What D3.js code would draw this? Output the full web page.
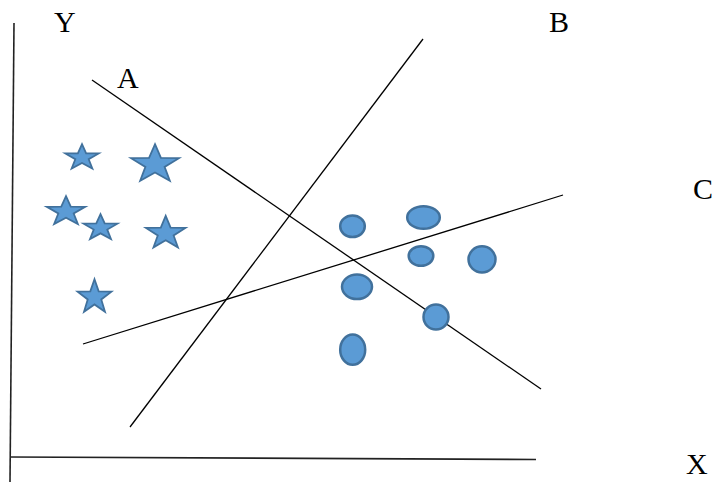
<!DOCTYPE html>
<html>
<head>
<meta charset="utf-8">
<script src="https://cdn.jsdelivr.net/npm/d3@7"></script>
<style>
  html, body { margin: 0; padding: 0; background: #fff; }
  svg { display: block; }
</style>
</head>
<body>
<svg id="chart" width="713" height="482"></svg>
<script>
// ---- data (diagram units: origin at the axes corner) ----
const axisEnds = [[0, 0], [526, -2.5], [0, 0], [4, 434], [0, 0], [0, -25]];
const lineNames = ["A", "B", "C"];
const lineStarts = [[82, 377], [120, 30], [73, 113]];
const lineEnds = [[531, 68], [413, 418], [553, 262]];
const starCenters = [[72, 299.4], [145, 292.6], [56, 245.4], [90.5, 229.1], [155.7, 223.7], [84.5, 159.8]];
const starSizes = [[17.6, 13.4], [25.2, 20.2], [20.2, 15.4], [17.8, 13.7], [20.8, 17.4], [17.8, 18]];
const ellipseCenters = [[342.5, 230.7], [413.5, 239.5], [411, 201], [472, 197.7], [347, 170.2], [426, 140], [342.7, 107.3]];
const ellipseSizes = [[12.3, 10.8], [16.3, 11.3], [12.3, 9.8], [13.5, 13.1], [15, 12.3], [12.5, 12.5], [12.5, 15.1]];
const labelTexts = ["Y", "A", "B", "C", "X"];
const labelAnchors = [[44, 425], [107, 369], [539, 425], [683, 258], [676, -17]];

// ---- scales ----
const x = d3.scaleLinear().domain([0, 525]).range([10, 535]);
const y = d3.scaleLinear().domain([0, 434]).range([457, 23]);
const kx = (x(1) - x(0)), ky = (y(0) - y(1));

const svg = d3.select("#chart");
const line = d3.line().x(d => x(d[0])).y(d => y(d[1]));

// axes
svg.append("path").attr("d", line([axisEnds[0], axisEnds[1]]))
  .attr("fill", "none").attr("stroke", "#222").attr("stroke-width", 1.6);
svg.append("path").attr("d", line([axisEnds[5], axisEnds[3]]))
  .attr("fill", "none").attr("stroke", "#222").attr("stroke-width", 1.6);

// separating lines
svg.selectAll("path.sep").data(lineNames).join("path")
  .attr("class", "sep")
  .attr("d", (d, i) => line([lineStarts[i], lineEnds[i]]))
  .attr("fill", "none").attr("stroke", "#000").attr("stroke-width", 1.3);

// stars
function starPath(rx, ry) {
  const pts = [];
  const inner = 0.4;
  for (let k = 0; k < 10; k++) {
    const a = -Math.PI / 2 + k * Math.PI / 5;
    const r = k % 2 === 0 ? 1 : inner;
    pts.push([Math.cos(a) * r * rx, Math.sin(a) * r * ry]);
  }
  return "M" + pts.map(p => p.join(",")).join("L") + "Z";
}
svg.selectAll("path.star").data(starCenters).join("path")
  .attr("class", "star")
  .attr("transform", d => `translate(${x(d[0])},${y(d[1])})`)
  .attr("d", (d, i) => starPath(starSizes[i][0] * kx, starSizes[i][1] * ky))
  .attr("fill", "#5B9BD5").attr("stroke", "#41719C").attr("stroke-width", 1.8)
  .attr("stroke-linejoin", "miter");

// ellipses
svg.selectAll("ellipse.pt").data(ellipseCenters).join("ellipse")
  .attr("class", "pt")
  .attr("cx", d => x(d[0])).attr("cy", d => y(d[1]))
  .attr("rx", (d, i) => ellipseSizes[i][0] * kx)
  .attr("ry", (d, i) => ellipseSizes[i][1] * ky)
  .attr("fill", "#5B9BD5").attr("stroke", "#41719C").attr("stroke-width", 2.5);

// labels
svg.selectAll("text.lab").data(labelTexts).join("text")
  .attr("class", "lab")
  .attr("x", (d, i) => x(labelAnchors[i][0]))
  .attr("y", (d, i) => y(labelAnchors[i][1]))
  .attr("font-family", "'Liberation Serif', 'Times New Roman', serif")
  .attr("font-size", 30)
  .attr("fill", "#000")
  .text(d => d);
</script>
</body>
</html>
